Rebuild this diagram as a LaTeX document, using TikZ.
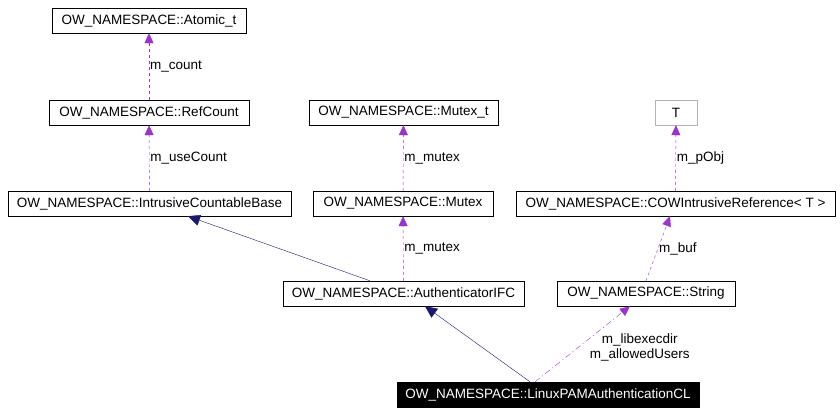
\documentclass[tikz,border=0pt]{standalone}
\usepackage{fontspec}
\setmainfont{Liberation Sans}
\usetikzlibrary{arrows.meta}
\definecolor{usecol}{HTML}{9A32CD}
\definecolor{inhcol}{HTML}{191970}
\tikzset{font={\fontsize{13.5}{15}\selectfont}}
\tikzstyle{cls} = [draw=black, fill=white, minimum height=25pt, inner sep=0pt, anchor=center]
\tikzstyle{use} = [draw=usecol, dashed, -{Triangle[length=10pt,width=9pt]}, color=usecol]
\tikzstyle{inh} = [draw=inhcol, -{Triangle[length=12pt,width=11pt,fill=inhcol]}]
\tikzstyle{elabel} = [anchor=west, color=black, inner sep=1pt]

\begin{document}
\begin{tikzpicture}[x=1pt, y=-1pt]
  \useasboundingbox (0,0) rectangle (840,416);
  \node[cls, minimum width=194pt] (atomic) at (149,20.5) {OW\_NAMESPACE::Atomic\_t};
  \node[cls, minimum width=200pt] (refcount) at (149,112.5) {OW\_NAMESPACE::RefCount};
  \node[cls, minimum width=283pt] (icb) at (149.5,203.5) {OW\_NAMESPACE::IntrusiveCountableBase};
  \node[cls, minimum width=189pt] (mutext) at (403.5,112.5) {OW\_NAMESPACE::Mutex\_t};
  \node[cls, minimum width=180pt] (mutex) at (403,203.5) {OW\_NAMESPACE::Mutex};
  \node[cls, draw=gray!60, minimum width=42pt] (t) at (676,112.5) {T};
  \node[cls, minimum width=319pt] (cow) at (675.5,203.5) {OW\_NAMESPACE::COWIntrusiveReference< T >};
  \node[cls, minimum width=241pt] (auth) at (403.5,293.5) {OW\_NAMESPACE::AuthenticatorIFC};
  \node[cls, minimum width=178pt] (string) at (646,293.5) {OW\_NAMESPACE::String};
  \node[cls, fill=black, text=white, minimum width=302pt] (linux) at (548,394.5) {OW\_NAMESPACE::LinuxPAMAuthenticationCL};

  % members
  \draw[use] (refcount) -- (atomic) node[elabel, midway] {m\_count};
  \draw[use] (icb) -- (refcount) node[elabel, midway] {m\_useCount};
  \draw[use] (mutex) -- (mutext) node[elabel, midway] {m\_mutex};
  \draw[use] (auth) -- (mutex) node[elabel, midway] {m\_mutex};
  \draw[use] (cow) -- (t) node[elabel, midway] {m\_pObj};
  \draw[use] (string.north) -- (cow.south -| 670,0) node[elabel, midway] {m\_buf};
  \draw[use, dash pattern=on 6pt off 3pt on 1pt off 3pt] (linux.north -| 535,0) -- (string.south -| 630,0)
    node[pos=0.45, right=12pt, align=center, text=black, inner sep=0pt] {m\_libexecdir\\m\_allowedUsers};

  % inheritance
  \draw[inh] (auth.north -| 370,0) -- (icb.south -| 188,0);
  \draw[inh] (linux.north -| 530,0) -- (auth.south -| 425,0);
\end{tikzpicture}
\end{document}
